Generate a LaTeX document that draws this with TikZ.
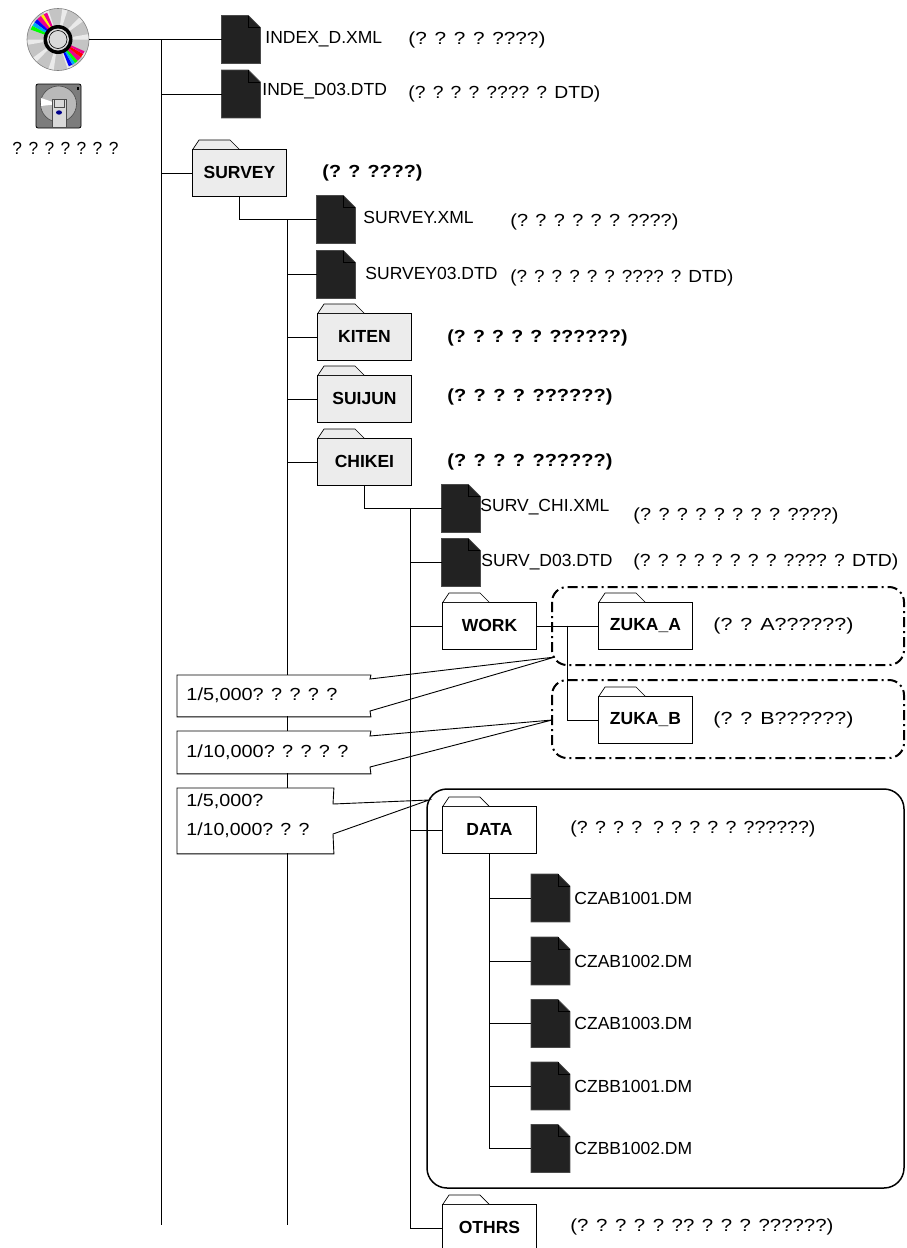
\documentclass[tikz,border=0pt]{standalone}
\usepackage{fontspec}
\setmainfont{Liberation Sans}
\usepackage{graphicx}
\newcommand{\fitw}[2]{\resizebox{#1pt}{\height}{#2}}
\definecolor{folgray}{HTML}{ECECEC}
\definecolor{filefill}{HTML}{222222}
\definecolor{fileedge}{HTML}{4A4A4A}
\definecolor{cdgray}{HTML}{C4C4C4}
\definecolor{cdlight}{HTML}{EAEAEA}
\definecolor{hubgray}{HTML}{DADADA}
\definecolor{flopgray}{HTML}{7C7C7C}
\tikzset{
  pics/fileicon/.style={code={
    \node[inner sep=0pt, minimum width=38pt, minimum height=47pt] (-box) {};
    \filldraw[fill=filefill, draw=fileedge, line width=0.8pt]
      (-box.south west) -- (-box.north west) -- ([xshift=-12pt]-box.north east)
      -- ([yshift=-12pt]-box.north east) -- (-box.south east) -- cycle;
    \draw[black, line width=0.7pt] ([xshift=-12pt]-box.north east)
      -- ([xshift=-12pt,yshift=-12pt]-box.north east) -- ([yshift=-12pt]-box.north east);
  }}
}
\begin{document}
\begin{tikzpicture}[x=1pt,y=-1pt, line width=0.9pt,
  every node/.style={font=\fontsize{17.5}{21}\selectfont},
  folder/.style={draw, line width=0.9pt, minimum width=94pt, minimum height=47pt,
    inner sep=0pt, anchor=north west, font=\fontsize{17.5}{21}\selectfont\bfseries},
  gfolder/.style={folder, fill=folgray},
  wfolder/.style={folder, fill=white},
  lbl/.style={anchor=west, inner sep=0pt},
  bdesc/.style={anchor=west, inner sep=0pt, font=\fontsize{17.5}{21}\selectfont\bfseries},
  callout/.style={fill=white, draw=none, anchor=north west, inner sep=0pt},
  calloutline/.style={line width=0.9pt},
  dashbox/.style={line width=2pt, rounded corners=15pt, dash pattern=on 10pt off 4pt on 2pt off 4pt},
  tab/.style={line width=0.7pt}
]
\useasboundingbox (0,0) rectangle (906,1248);
\clip (0,0) rectangle (906,1248);

% ---------- CD icon ----------
\node[circle, minimum size=62pt, inner sep=0pt] (cd) at (58,39.5) {};
\begin{scope}[shift={(cd.center)}]
  \fill[cdgray] (0pt,0pt) circle (31pt);
  \foreach \a in {0,36,...,324}
    \fill[cdlight] (0pt,0pt) -- (\a:31pt) arc[start angle=\a, end angle=\a+10, radius=31pt] -- cycle;
  \foreach \a/\b/\c in {112/120/magenta,120/126/yellow,126/136/magenta,136/144/blue,144/152/cyan,152/160/green,
                        292/300/blue,300/306/cyan,306/313/green,313/322/magenta,322/330/red,330/336/magenta}
    \fill[\c] (\a:14pt) -- (\a:29pt) arc[start angle=\a, end angle=\b, radius=29pt] -- (\b:14pt) -- cycle;
  \draw[gray, line width=0.6pt] (0pt,0pt) circle (31pt);
  \fill[black] (0pt,0pt) circle (14.5pt);
  \fill[hubgray] (0pt,0pt) circle (11pt);
  \draw[black, line width=0.6pt] (0pt,0pt) circle (9pt);
\end{scope}

% ---------- floppy icon ----------
\node[draw, fill=flopgray, minimum width=45pt, minimum height=44pt, inner sep=0pt,
      rounded corners=2pt, line width=0.8pt] (fd) at (58.5,106) {};
\filldraw[fill=gray!55, draw=black!70, line width=0.6pt] (58.5,104) circle (18pt);
\fill[white] (58.5,104) -- (41,98) -- (41,106) -- cycle;
\filldraw[fill=gray!30, draw=black!70, line width=0.6pt] (52,99) rectangle (66,127);
\draw[black!70, line width=0.5pt] (54,99) rectangle (64,107);
\fill[blue!55!black] (59,112.5) ellipse (3pt and 2.2pt);
\fill[black] (76.5,87) rectangle (78.5,90);
\node[lbl] (dl) at (12,148) {\fitw{106}{? ? ? ? ? ? ?}};

% ---------- files ----------
\pic (f1) at (241,39.5) {fileicon};
\pic (f2) at (241,94) {fileicon};
\pic (s1) at (336,219.5) {fileicon};
\pic (s2) at (336,274.5) {fileicon};
\pic (c1) at (461,508.5) {fileicon};
\pic (c2) at (461,562.5) {fileicon};
\pic (cz1) at (550.5,898) {fileicon};
\pic (cz2) at (550.5,961) {fileicon};
\pic (cz3) at (550.5,1023.5) {fileicon};
\pic (cz4) at (550.5,1086) {fileicon};
\pic (cz5) at (550.5,1148.5) {fileicon};

% ---------- folders ----------
\node[gfolder] (survey) at (192,149) {SURVEY};
\node[gfolder] (kiten) at (317,313) {KITEN};
\node[gfolder] (suijun) at (317,375) {SUIJUN};
\node[gfolder] (chikei) at (317,438) {CHIKEI};
\node[wfolder] (work) at (442,602) {WORK};
\node[wfolder] (zukaa) at (598,602) {ZUKA\_A};
\node[wfolder] (zukab) at (598,696) {ZUKA\_B};
\node[wfolder] (data) at (442,806) {DATA};
\node[wfolder] (othrs) at (442,1204) {OTHRS};
\foreach \n/\c in {survey/folgray,kiten/folgray,suijun/folgray,chikei/folgray,work/white,zukaa/white,zukab/white,data/white,othrs/white}
  \filldraw[tab, fill=\c] ([xshift=1pt]\n.north west) -- ([xshift=7pt,yshift=9pt]\n.north west)
     -- ([xshift=38pt,yshift=9pt]\n.north west) -- ([xshift=47pt]\n.north west);

% ---------- tree connectors ----------
\coordinate (t0) at (161,39.5);
\coordinate (t0e) at (161,1225);
\draw (cd.east) -- (f1-box.west);
\draw (t0) -- (t0e);
\draw (t0 |- f2-box.west) -- (f2-box.west);
\draw (t0 |- survey.west) -- (survey.west);
\draw (survey.south) |- (s1-box.west);
\coordinate (t1) at (287,219.5);
\coordinate (t1e) at (287,1225);
\draw (t1) -- (t1e);
\draw (t1 |- s2-box.west) -- (s2-box.west);
\draw (t1 |- kiten.west) -- (kiten.west);
\draw (t1 |- suijun.west) -- (suijun.west);
\draw (t1 |- chikei.west) -- (chikei.west);
\draw (chikei.south) |- (c1-box.west);
\coordinate (t2) at (410,508.5);
\draw (t2) |- (othrs.west);
\draw (t2 |- c2-box.west) -- (c2-box.west);
\draw (t2 |- work.west) -- (work.west);
\draw (t2 |- data.west) -- (data.west);
\draw (work.east) -- (zukaa.west);
\coordinate (wj) at (567,625.5);
\draw (wj) |- (zukab.west);
\draw (data.south) |- (cz5-box.west);
\coordinate (dj) at (data.south);
\draw (dj |- cz1-box.west) -- (cz1-box.west);
\draw (dj |- cz2-box.west) -- (cz2-box.west);
\draw (dj |- cz3-box.west) -- (cz3-box.west);
\draw (dj |- cz4-box.west) -- (cz4-box.west);

% ---------- group boxes ----------
\draw[dashbox] (552,587) rectangle (904,665);
\draw[dashbox] (552,680) rectangle (904,758);
\draw[line width=1.5pt, rounded corners=20pt] (427,789) rectangle (904,1188);

% ---------- callouts ----------
\coordinate (tip1) at (555,657);
\coordinate (tip2) at (552,720);
\coordinate (tip3) at (429,800);
\node[callout, minimum width=193pt, minimum height=41pt] (co1) at (177,675) {};
\draw[calloutline] (370,711) -- (co1.south east) -- (co1.south west) -- (co1.north west)
   -- (co1.north east) -- (370,679) -- (tip1) -- (370,711) -- cycle;
\node[callout, minimum width=193pt, minimum height=42pt] (co2) at (177,731) {};
\draw[calloutline] (370,767) -- (co2.south east) -- (co2.south west) -- (co2.north west)
   -- (co2.north east) -- (370,736) -- (tip2) -- (370,767) -- cycle;
\node[callout, minimum width=156pt, minimum height=65pt] (co3) at (177,788) {};
\draw[calloutline] (333,834) -- (co3.south east) -- (co3.south west) -- (co3.north west)
   -- (co3.north east) -- (333,804) -- (tip3) -- (333,834) -- cycle;
\node[lbl] (co1t) at (186,695.5) {\fitw{151}{1/5,000? ? ? ? ?}};
\node[lbl] (co2t) at (186,752) {\fitw{162}{1/10,000? ? ? ? ?}};
\node[lbl] (co3a) at (186,801) {\fitw{77}{1/5,000?}};
\node[lbl] (co3b) at (186,830) {\fitw{123}{1/10,000? ? ?}};

% ---------- labels ----------
\node[lbl] (f1t) at (265,39.5) {INDEX\_D.XML};
\node[lbl] (f1d) at (408,40) {\fitw{137}{(? ? ? ? ????)}};
\node[lbl] (f2t) at (262,91) {INDE\_D03.DTD};
\node[lbl] (f2d) at (408,94) {\fitw{192}{(? ? ? ? ???? ? DTD)}};
\node[bdesc] (svd) at (322,173) {\fitw{100}{(? ? ????)}};
\node[lbl] (s1t) at (363,217) {SURVEY.XML};
\node[lbl] (s1d) at (510,222) {\fitw{168}{(? ? ? ? ? ? ????)}};
\node[lbl] (s2t) at (365,273) {SURVEY03.DTD};
\node[lbl] (s2d) at (510,278) {\fitw{223}{(? ? ? ? ? ? ???? ? DTD)}};
\node[bdesc] (kid) at (447,338) {\fitw{180}{(? ? ? ? ? ??????)}};
\node[bdesc] (sud) at (447,397) {\fitw{165}{(? ? ? ? ??????)}};
\node[bdesc] (chd) at (447,462) {\fitw{165}{(? ? ? ? ??????)}};
\node[lbl] (c1t) at (480,507) {SURV\_CHI.XML};
\node[lbl] (c1d) at (633,516) {\fitw{205}{(? ? ? ? ? ? ? ? ????)}};
\node[lbl] (c2t) at (481,562) {SURV\_D03.DTD};
\node[lbl] (c2d) at (633,562) {\fitw{265}{(? ? ? ? ? ? ? ? ???? ? DTD)}};
\node[lbl] (zad) at (713,626) {\fitw{140}{(? ? A??????)}};
\node[lbl] (zbd) at (713,720) {\fitw{140}{(? ? B??????)}};
\node[lbl] (dad) at (570,829) {\fitw{245}{(? ? ? ?\ \ ? ? ? ? ? ??????)}};
\node[lbl] (cz1t) at (574,898) {CZAB1001.DM};
\node[lbl] (cz2t) at (574,961) {CZAB1002.DM};
\node[lbl] (cz3t) at (574,1023.5) {CZAB1003.DM};
\node[lbl] (cz4t) at (574,1086) {CZBB1001.DM};
\node[lbl] (cz5t) at (574,1148.5) {CZBB1002.DM};
\node[lbl] (otd) at (570,1227) {\fitw{263}{(? ? ? ? ? ?? ? ? ? ??????)}};
\end{tikzpicture}
\end{document}
